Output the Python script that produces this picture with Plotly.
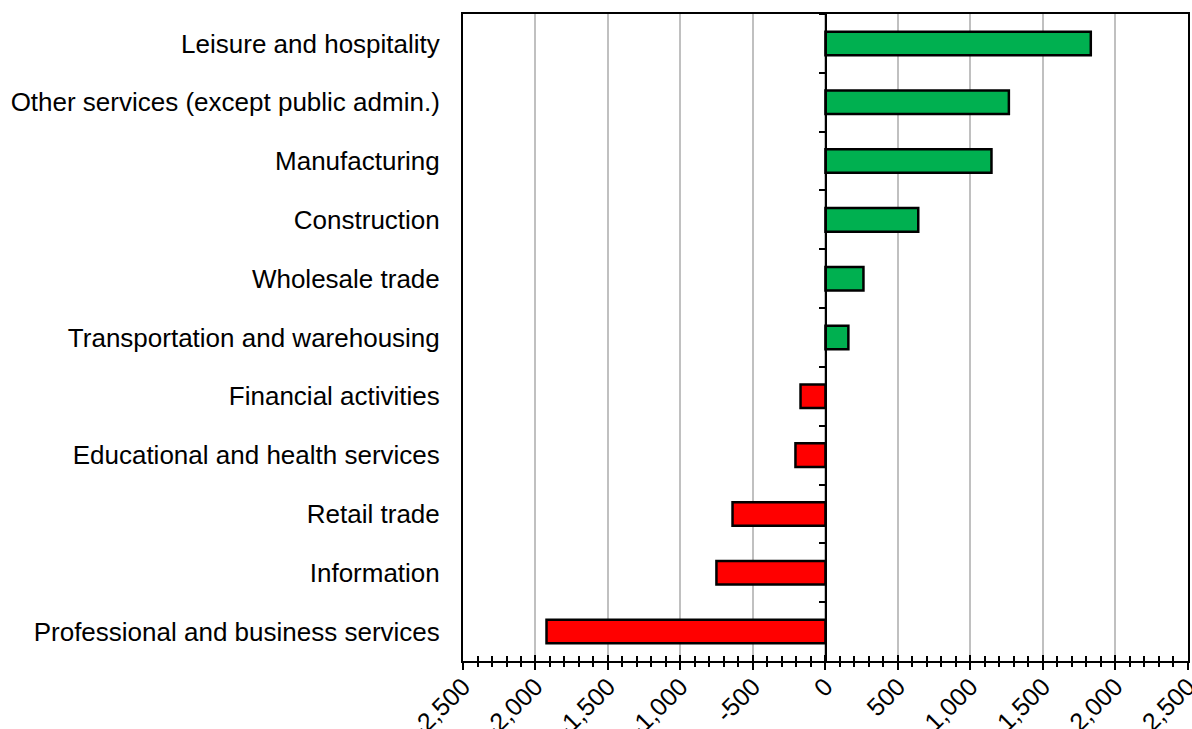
import plotly.graph_objects as go

categories = [
    "Leisure and hospitality",
    "Other services (except public admin.)",
    "Manufacturing",
    "Construction",
    "Wholesale trade",
    "Transportation and warehousing",
    "Financial activities",
    "Educational and health services",
    "Retail trade",
    "Information",
    "Professional and business services",
]
values = [1830, 1265, 1145, 640, 262, 158, -172, -207, -641, -752, -1924]
tick_vals = [-2500, -2000, -1500, -1000, -500, 0, 500, 1000, 1500, 2000, 2500]
tick_text = ["-2,500", "-2,000", "-1,500", "-1,000", "-500", "0", "500", "1,000", "1,500", "2,000", "2,500"]

colors = ["#00B050" if v >= 0 else "#FF0000" for v in values]
FONT = "Liberation Sans, Arial, sans-serif"
XRANGE = [-2500, 2500.5]

fig = go.Figure()
fig.add_trace(go.Bar(
    x=values, y=categories, orientation="h",
    marker=dict(color=colors, line=dict(color="black", width=2.5)),
    width=0.4, showlegend=False,
))
# invisible trace for the zero-axis overlay (category ticks at x=0)
fig.add_trace(go.Scatter(
    x=[0] * len(categories), y=categories, yaxis="y2",
    mode="markers", marker=dict(opacity=0), showlegend=False, hoverinfo="skip",
))
# invisible trace for the inside half of the crossing x ticks
fig.add_trace(go.Scatter(
    x=[0] * len(categories), y=categories, xaxis="x2",
    mode="markers", marker=dict(opacity=0), showlegend=False, hoverinfo="skip",
))

fig.update_layout(
    width=1192, height=729,
    margin=dict(l=463, r=4, t=14, b=68),
    plot_bgcolor="white", paper_bgcolor="white",
    font=dict(family=FONT, size=26, color="black"),
    xaxis=dict(
        range=XRANGE, tickvals=tick_vals, ticktext=tick_text,
        tickangle=-45, showgrid=True, gridcolor="#C0C0C0", gridwidth=2,
        zeroline=False, showline=True, linecolor="black", linewidth=2,
        mirror=True, ticks="outside", ticklen=7, tickwidth=2, tickcolor="black",
        minor=dict(dtick=100, ticks="outside", ticklen=4, tickwidth=2,
                   tickcolor="black", showgrid=False),
        tickfont=dict(size=25), automargin=False, ticklabelstandoff=-8,
        ticklabeloverflow="allow",
    ),
    xaxis2=dict(
        overlaying="x", anchor="y", side="bottom", range=XRANGE,
        tickvals=tick_vals, showticklabels=False, showgrid=False,
        zeroline=False, showline=False, ticks="inside", ticklen=6,
        tickwidth=2, tickcolor="black",
        minor=dict(dtick=100, ticks="inside", ticklen=5, tickwidth=2,
                   tickcolor="black", showgrid=False),
        automargin=False,
    ),
    yaxis=dict(
        categoryorder="array", categoryarray=categories,
        autorange=False, range=[len(categories) - 0.5, -0.5],
        showline=True, linecolor="black", linewidth=2, mirror=True,
        ticks="", showgrid=False, tickfont=dict(size=26), ticklabelstandoff=16,
        automargin=False,
    ),
    yaxis2=dict(
        overlaying="y", anchor="free", position=0.5,
        categoryorder="array", categoryarray=categories,
        autorange=False, range=[len(categories) - 0.5, -0.5],
        showline=True, linecolor="black", linewidth=2,
        ticks="outside", tickson="boundaries", ticklen=6, tickwidth=2,
        tickcolor="black", showticklabels=False, showgrid=False, automargin=False,
    ),
)

fig.write_html(
    "out.html",
    config={"displayModeBar": False},
    post_script="document.body.style.margin='0';document.body.style.overflow='hidden';",
)
